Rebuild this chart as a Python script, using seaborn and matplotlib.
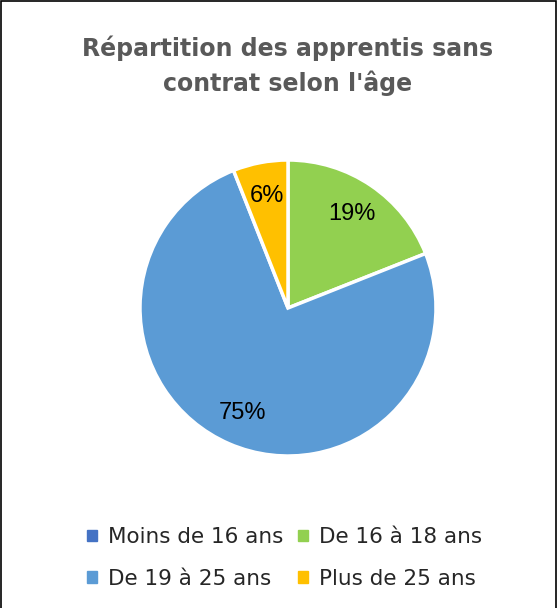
import matplotlib.pyplot as plt
import seaborn as sns
from matplotlib.patches import Rectangle

categories = ["Moins de 16 ans", "De 16 à 18 ans", "De 19 à 25 ans", "Plus de 25 ans"]
values = [0, 19, 75, 6]
colors = ["#4472C4", "#92D050", "#5B9BD5", "#FFC000"]

sns.set_theme(style="white")
plt.rcParams['font.family'] = ['DejaVu Sans']

fig = plt.figure(figsize=(5.58, 6.08), dpi=100)

# pie axes: centre ~ (288, 308) px, radius ~148 px
r = 148
cx, cy = 288, 308
ax = fig.add_axes([(cx - r) / 558, (608 - cy - r) / 608, 2 * r / 558, 2 * r / 608])

shown = [v for v in values if v > 0]
shown_colors = [c for v, c in zip(values, colors) if v > 0]
wedges, texts, autotexts = ax.pie(
    shown, colors=shown_colors, startangle=90, counterclock=False,
    autopct=lambda p: f"{p:.0f}%", pctdistance=0.77,
    wedgeprops=dict(edgecolor="white", linewidth=2.5),
    textprops=dict(fontsize=17, family="Liberation Sans", color="black"),
)
ax.set_xlim(-1, 1)
ax.set_ylim(-1, 1)
ax.set_aspect("equal")
ax.axis("off")

fig.text(0.516, 1 - 66 / 608, "Répartition des apprentis sans\ncontrat selon l'âge",
         ha="center", va="center", fontsize=17, fontweight="bold", color="#595959",
         linespacing=1.45)

# legend filled row by row (matplotlib fills column-wise)
order = [0, 2, 1, 3]
handles = [Rectangle((0, 0), 1, 1, color=colors[i]) for i in order]
labels = [categories[i] for i in order]
fig.legend(handles, labels, loc="center", bbox_to_anchor=(0.51, 1 - 558 / 608),
           ncol=2, frameon=False, fontsize=15.5, handlelength=0.45, handleheight=0.45,
           handletextpad=0.5, columnspacing=0.7, labelspacing=1.0)

fig.patches.append(Rectangle((0.002, -0.01), 0.994, 1.008, transform=fig.transFigure,
                             fill=False, edgecolor="black", linewidth=1.2))

fig.savefig("out.png", dpi=100)
